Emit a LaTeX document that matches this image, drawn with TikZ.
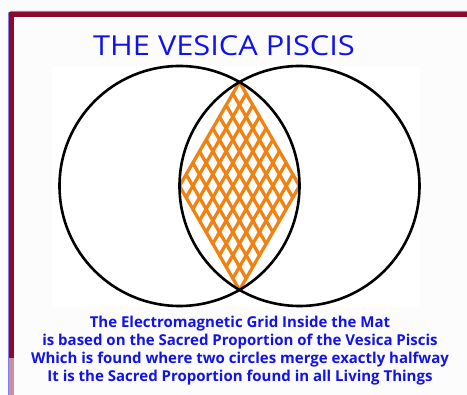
\documentclass[tikz,border=0pt]{standalone}
\usepackage{fontspec}
\setmainfont{Open Sans}
\usepackage{graphicx}
\usepackage{xcolor}
\definecolor{vpblue}{RGB}{18, 18, 235}
\definecolor{vpmaroon}{RGB}{140, 8, 45}
\definecolor{vpedge}{RGB}{125, 125, 240}
\definecolor{vporange}{RGB}{240, 130, 20}
\usetikzlibrary{calc}

\begin{document}
\begin{tikzpicture}[x=1pt, y=-1pt]

% === Parámetros ===
\def\R{120}        % Radio de los círculos
\def\cy{186}       % Altura de los centros
\def\n{9}          % Divisiones de la malla

\useasboundingbox (0,0) rectangle (467,395);
\fill[white!99!black] (0,0) rectangle (467,395);
\fill[white] (52,66) rectangle (420,307);

% === Marco ===
\draw[vpedge, line width=1pt] (8.5,395) -- (8.5,13) to[out=-90,in=180] (11,11.5) -- (467,11.5);
\draw[vpmaroon, line width=4.5pt] (11.5,395) -- (11.5,14.5) -- (467,14.5);
\draw[vpmaroon!45, line width=4.5pt] (11.5,358) -- (11.5,395);

% === Centros e intersecciones ===
\coordinate (L) at ({239.5-\R/2}, \cy);          % Centro izquierdo
\coordinate (R) at ({239.5+\R/2}, \cy);          % Centro derecho
\coordinate (T) at (239.5, {\cy-0.866*\R});      % Intersección superior
\coordinate (B) at (239.5, {\cy+0.866*\R});      % Intersección inferior

% === Malla (rombo) ===
\foreach \i in {0,...,\n} {
    \draw[vporange, line width=3.3pt, line cap=round]
        ($(T)!\i/\n!(L)$) -- ($(R)!\i/\n!(B)$);
    \draw[vporange, line width=3.3pt, line cap=round]
        ($(T)!\i/\n!(R)$) -- ($(L)!\i/\n!(B)$);
}

% === Círculos ===
\draw[black, line width=2.6pt] (L) circle (\R);
\draw[black, line width=2.6pt] (R) circle (\R);

% === Textos ===
\node[vpblue, font=\fontsize{27.5}{30}\selectfont] (title) at (224,46)
    {\scalebox{1.12}[1]{THE VESICA PISCIS}};
\node[vpblue, font=\bfseries\fontsize{15}{18}\selectfont, align=center] (caption) at (240,350.5)
    {The Electromagnetic Grid Inside the Mat\\
     is based on the Sacred Proportion of the Vesica Piscis\\
     Which is found where two circles merge exactly halfway\\
     It is the Sacred Proportion found in all Living Things};

\end{tikzpicture}
\end{document}
